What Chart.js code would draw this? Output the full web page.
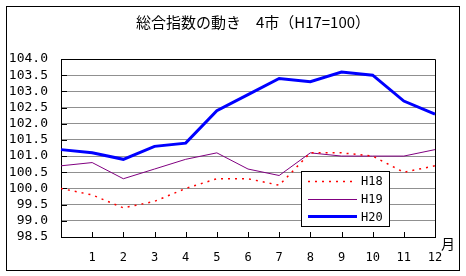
<!DOCTYPE html>
<html>
<head>
<meta charset="utf-8">
<script src="https://cdn.jsdelivr.net/npm/chart.js@4"></script>
<style>
body { margin: 0; background: #fff; }
</style>
</head>
<body>
<canvas id="grafico" width="466" height="276"></canvas>
<script>
// dados (posição 0 = ponto inicial sem rótulo)
var meses = ["", "1", "2", "3", "4", "5", "6", "7", "8", "9", "10", "11", "12"];
var h18 = [100.0, 99.8, 99.4, 99.6, 100.0, 100.3, 100.3, 100.1, 101.1, 101.1, 101.0, 100.5, 100.7];
var h19 = [100.7, 100.8, 100.3, 100.6, 100.9, 101.1, 100.6, 100.4, 101.1, 101.0, 101.0, 101.0, 101.2];
var h20 = [101.2, 101.1, 100.9, 101.3, 101.4, 102.4, 102.9, 103.4, 103.3, 103.6, 103.5, 102.7, 102.3];
var nomes = ["H18", "H19", "H20"];
var yMin = 98.5, yMax = 104.0, yPasso = 0.5;
var titulo = "総合指数の動き　4市（H17=100）";
var unidadeX = "月";

var fonteMono = '"DejaVu Sans Mono", monospace';
var fonteJp = '"Noto Sans CJK JP", sans-serif';

var moldura = {
    id: "moldura",
    beforeDraw: function (chart) {
        var ctx = chart.ctx;
        ctx.save();
        ctx.fillStyle = "#fff";
        ctx.fillRect(0, 0, chart.width, chart.height);
        ctx.strokeStyle = "#000";
        ctx.lineWidth = 1;
        ctx.strokeRect(6.5, 6.5, 453, 264);
        ctx.fillStyle = "#000";
        ctx.font = "15px " + fonteJp;
        ctx.textAlign = "center";
        ctx.textBaseline = "middle";
        ctx.fillText(titulo, 253, 22);
        ctx.restore();
    },
    beforeDatasetsDraw: function (chart) {
        var a = chart.chartArea, ctx = chart.ctx;
        var sx = chart.scales.x, sy = chart.scales.y;
        ctx.save();
        ctx.strokeStyle = "#000";
        ctx.lineWidth = 1;
        ctx.beginPath();
        // borda de cima e da direita
        ctx.moveTo(a.left, Math.round(a.top) + 0.5);
        ctx.lineTo(Math.round(a.right) + 0.5, Math.round(a.top) + 0.5);
        ctx.lineTo(Math.round(a.right) + 0.5, a.bottom);
        // marcas internas do eixo Y
        sy.ticks.forEach(function (t, i) {
            var py = Math.round(sy.getPixelForTick(i)) + 0.5;
            ctx.moveTo(a.left, py);
            ctx.lineTo(a.left + 6, py);
        });
        // marcas internas do eixo X
        for (var i = 1; i < meses.length; i++) {
            var px = Math.round(sx.getPixelForTick(i)) + 0.5;
            ctx.moveTo(px, a.bottom);
            ctx.lineTo(px, a.bottom - 5);
        }
        ctx.stroke();
        ctx.fillStyle = "#000";
        ctx.font = "14px " + fonteJp;
        ctx.textAlign = "center";
        ctx.textBaseline = "middle";
        ctx.fillText(unidadeX, a.right + 13, a.bottom + 7);
        ctx.restore();
    },
    afterDraw: function (chart) {
        // legenda dentro da área do gráfico
        var ctx = chart.ctx;
        var bx = 301, by = 171, bw = 88, bh = 55;
        ctx.save();
        ctx.fillStyle = "#fff";
        ctx.fillRect(bx, by, bw, bh);
        ctx.strokeStyle = "#000";
        ctx.lineWidth = 1;
        ctx.strokeRect(bx + 0.5, by + 0.5, bw, bh);
        ctx.font = "12px " + fonteMono;
        ctx.textBaseline = "middle";
        chart.data.datasets.forEach(function (ds, i) {
            var y = by + 10 + i * 17.7;
            ctx.beginPath();
            ctx.strokeStyle = ds.borderColor;
            ctx.lineWidth = ds.borderWidth;
            ctx.setLineDash(ds.borderDash || []);
            ctx.moveTo(bx + 7, Math.round(y) + 0.5);
            ctx.lineTo(bx + 56, Math.round(y) + 0.5);
            ctx.stroke();
            ctx.setLineDash([]);
            ctx.fillStyle = "#000";
            ctx.fillText(ds.label, bx + 60, y + 1);
        });
        ctx.restore();
    }
};

var ctx = document.getElementById("grafico").getContext("2d");
var grafico = new Chart(ctx, {
    type: "line",
    data: {
        labels: meses,
        datasets: [
            { label: nomes[0], data: h18, borderColor: "#FF0000", borderWidth: 1.5, borderDash: [2, 5] },
            { label: nomes[1], data: h19, borderColor: "#800080", borderWidth: 1 },
            { label: nomes[2], data: h20, borderColor: "#0000FF", borderWidth: 3 }
        ]
    },
    options: {
        responsive: false,
        animation: false,
        layout: { padding: { left: 0, right: 31, top: 59, bottom: 0 } },
        elements: {
            line: { tension: 0, fill: false },
            point: { radius: 0 }
        },
        plugins: {
            legend: { display: false },
            title: { display: false },
            tooltip: { enabled: false }
        },
        scales: {
            x: {
                type: "category",
                offset: false,
                grid: { display: false, drawTicks: false },
                border: { color: "#000", width: 1 },
                ticks: {
                    autoSkip: false,
                    maxRotation: 0,
                    padding: 14,
                    color: "#000",
                    font: { family: fonteMono, size: 12 }
                },
                afterFit: function (scale) { scale.height = 39; }
            },
            y: {
                min: yMin,
                max: yMax,
                grid: { color: "#909090", drawTicks: false },
                border: { color: "#000", width: 1 },
                ticks: {
                    autoSkip: false,
                    stepSize: yPasso,
                    padding: 13,
                    color: "#000",
                    font: { family: fonteMono, size: 13 },
                    callback: function (v) { return Number(v).toFixed(1); }
                },
                afterFit: function (scale) { scale.width = 61; }
            }
        }
    },
    plugins: [moldura]
});
</script>
</body>
</html>
